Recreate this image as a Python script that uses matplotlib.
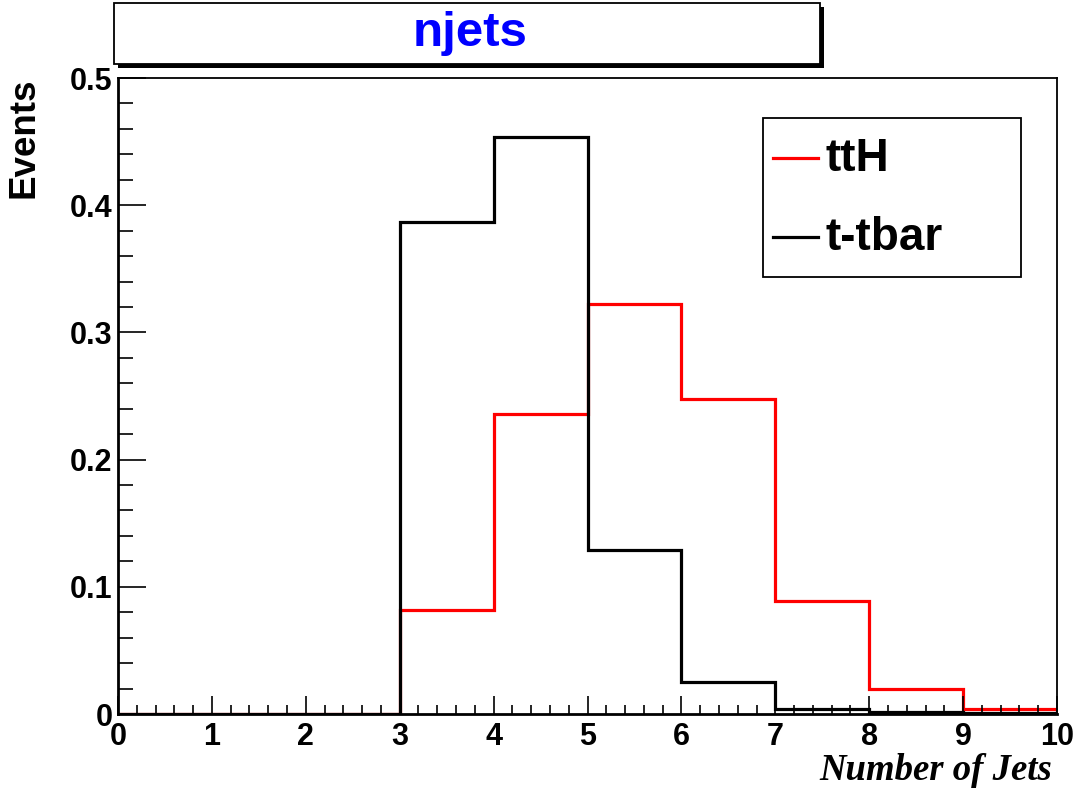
import matplotlib
matplotlib.use("Agg")
import matplotlib.pyplot as plt
import numpy as np
from matplotlib.patches import Rectangle
from matplotlib.lines import Line2D
from matplotlib.ticker import MultipleLocator

# ---- data ----
bin_edges = [0, 1, 2, 3, 4, 5, 6, 7, 8, 9, 10]
tth_values = [0.0, 0.0, 0.0, 0.082, 0.236, 0.322, 0.248, 0.089, 0.0195, 0.004]
ttbar_values = [0.0, 0.0, 0.0, 0.387, 0.454, 0.129, 0.025, 0.004, 0.0012, 0.0004]
series_labels = ["ttH", "t-tbar"]
series_colors = ["#ff0000", "#000000"]
title_text = "njets"
xlabel_text = "Number of Jets"
ylabel_text = "Events"
xtick_labels = ["0", "1", "2", "3", "4", "5", "6", "7", "8", "9", "10"]
ytick_values = [0, 0.1, 0.2, 0.3, 0.4, 0.5]
ytick_labels = ["0", "0.1", "0.2", "0.3", "0.4", "0.5"]

W, H = 1076, 791
fig = plt.figure(figsize=(W / 100, H / 100), dpi=100)

def fx(px):
    return px / W

def fy(py):
    return 1 - py / H

left, right, top, bottom = 118, 1057, 78, 714
ax = fig.add_axes([fx(left), fy(bottom), fx(right - left), (bottom - top) / H])

sans = "Liberation Sans"
ax.stairs(tth_values, bin_edges, color=series_colors[0], lw=2.3, baseline=0)
ax.stairs(ttbar_values, bin_edges, color=series_colors[1], lw=2.3, baseline=0)

ax.set_xlim(0, 10)
ax.set_ylim(0, 0.5)
ax.xaxis.set_minor_locator(MultipleLocator(0.2))
ax.yaxis.set_minor_locator(MultipleLocator(0.02))

ax.tick_params(axis="x", which="major", direction="in", length=13, width=1.2,
               top=False, pad=6)
ax.tick_params(axis="x", which="minor", direction="in", length=6.5, width=1.2, top=False)
ax.tick_params(axis="y", which="major", direction="in", length=20, width=1.2,
               right=False, pad=4)
ax.tick_params(axis="y", which="minor", direction="in", length=10.5, width=1.2, right=False)

ax.set_xticks(range(0, 11))
ax.set_xticklabels(xtick_labels)
ax.set_yticks(ytick_values)
ax.set_yticklabels(ytick_labels)
for lab in ax.get_xticklabels() + ax.get_yticklabels():
    lab.set_fontfamily(sans)
    lab.set_fontweight("bold")
    lab.set_fontsize(22)

for s in ["left", "bottom"]:
    ax.spines[s].set_linewidth(2.0)
for s in ["top", "right"]:
    ax.spines[s].set_linewidth(1.3)

# axis titles
fig.text(fx(24), fy(78), ylabel_text, rotation=90, ha="center", va="top",
         fontsize=26.5, fontweight="bold", family=sans)
fig.text(fx(1052), fy(770), xlabel_text, ha="right", va="center",
         fontsize=26.5, fontweight="bold", fontstyle="italic", family="Liberation Serif")

# title box with shadow
bx0, by0, bx1, by1 = 114, 3, 820, 64
sh = 4
fig.add_artist(Rectangle((fx(bx0 + sh), fy(by1 + sh)), fx(bx1 - bx0), (by1 - by0) / H,
                         transform=fig.transFigure, facecolor="black", edgecolor="black", lw=0))
fig.add_artist(Rectangle((fx(bx0), fy(by1)), fx(bx1 - bx0), (by1 - by0) / H,
                         transform=fig.transFigure, facecolor="white", edgecolor="black", lw=1.3))
fig.text(fx(470), fy(34), title_text, ha="center", va="center", fontsize=35.5,
         fontweight="bold", color="#0000ff", family=sans)

# legend box
lx0, ly0, lx1, ly1 = 763, 118, 1021, 277
fig.add_artist(Rectangle((fx(lx0), fy(ly1)), fx(lx1 - lx0), (ly1 - ly0) / H,
                         transform=fig.transFigure, facecolor="white", edgecolor="black", lw=1.3))
entry_y = [158, 237]
for lab, col, yy in zip(series_labels, series_colors, entry_y):
    fig.add_artist(Line2D([fx(773), fx(818)], [fy(yy), fy(yy)], color=col, lw=2.3,
                          transform=fig.transFigure))
    fig.text(fx(826), fy(yy + 1), lab, ha="left", va="center", fontsize=33,
             fontweight="bold", family=sans)

fig.savefig("out.png", dpi=100)
